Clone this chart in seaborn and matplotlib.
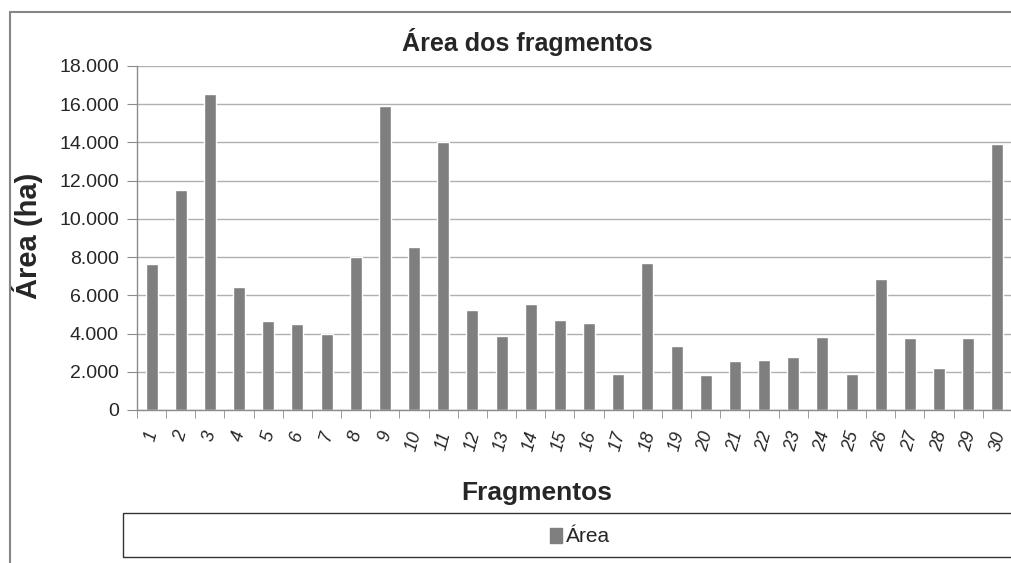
import numpy as np
import pandas as pd
import matplotlib
matplotlib.use("Agg")
import matplotlib.pyplot as plt
from matplotlib.ticker import FuncFormatter, MultipleLocator
from matplotlib.patches import Rectangle, Patch
from matplotlib.lines import Line2D
import seaborn as sns

fragmentos = [str(i) for i in range(1, 31)]
area = [7630, 11500, 16560, 6440, 4660, 4500, 4000, 8000, 15930, 8530,
        14030, 5240, 3870, 5530, 4730, 4550, 1880, 7680, 3350, 1830,
        2570, 2620, 2790, 3800, 1880, 6840, 3750, 2180, 3750, 13930]

df = pd.DataFrame({"Fragmentos": fragmentos, "Área": area})

sns.set_style("white")
plt.rcParams['font.family'] = ['Liberation Sans', 'DejaVu Sans']

W, H = 1012, 563
L, B, T = 137, 410, 66
fig = plt.figure(figsize=(W / 100, H / 100), dpi=100)
ax = fig.add_axes([L / W, 1 - B / H, (W - L) / W, (B - T) / H])

sns.barplot(data=df, x="Fragmentos", y="Área", color="#7f7f7f",
            width=0.41, saturation=1, ax=ax)

ax.set_ylim(0, 18000)
ax.set_xlim(-0.5, 29.5)
ax.yaxis.set_major_locator(MultipleLocator(2000))
ax.yaxis.set_major_formatter(FuncFormatter(lambda v, p: f"{int(v):,}".replace(",", ".")))
ax.grid(axis="y", color="#b0b0b0", linewidth=1)
ax.set_axisbelow(True)
for s in ["top", "right"]:
    ax.spines[s].set_visible(False)
for s in ["left", "bottom"]:
    ax.spines[s].set_color("#8c8c8c")
    ax.spines[s].set_linewidth(1)

# category boundary ticks on the x axis
ax.set_xticks(np.arange(-0.5, 30, 1), minor=True)
ax.tick_params(axis="x", which="minor", length=6, color="#8c8c8c", direction="out", bottom=True)
ax.tick_params(axis="x", which="major", length=0, pad=14)
ax.tick_params(axis="y", length=7, color="#8c8c8c", direction="out", left=True,
               labelsize=14, pad=6)
for lab in ax.get_xticklabels():
    lab.set_rotation(75)
    lab.set_fontstyle("italic")
    lab.set_fontsize(13)
    lab.set_ha("center")
    lab.set_va("top")

ax.set_xlabel("Fragmentos", fontsize=19, fontweight="bold")
ax.xaxis.set_label_coords((537 - L) / (W - L), (B - 481) / (B - T))
ax.set_ylabel("Área (ha)", fontsize=21, fontweight="bold")
ax.yaxis.set_label_coords((43 - L) / (W - L), (B - 236) / (B - T))
fig.text(527 / W, 1 - 42 / H, "Área dos fragmentos", fontsize=18,
         fontweight="bold", ha="center", va="center")

# chart outer border
fig.add_artist(Line2D([10 / W, 10 / W], [0, 1 - 12 / H], color="#868686", lw=1.5))
fig.add_artist(Line2D([10 / W, 1], [1 - 12 / H, 1 - 12 / H], color="#868686", lw=1.5))

# legend box
fig.add_artist(Rectangle((123 / W, 1 - 557 / H), (W - 122) / W, 44 / H,
                         transform=fig.transFigure, fill=False,
                         edgecolor="#333333", lw=1))
fig.legend(handles=[Patch(color="#7f7f7f", label="Área")],
           loc="center", bbox_to_anchor=(580 / W, 1 - 537 / H),
           frameon=False, fontsize=15, handlelength=0.6, handleheight=0.7,
           handletextpad=0.2)

fig.savefig("out.png", dpi=100)
